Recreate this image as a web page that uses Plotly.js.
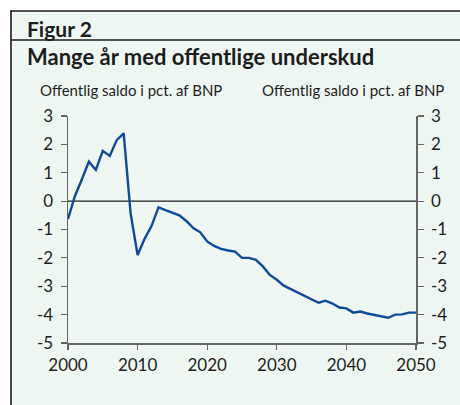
<!DOCTYPE html>
<html>
<head>
<meta charset="utf-8">
<script src="https://cdn.plot.ly/plotly-3.0.1.min.js"></script>
<style>html,body{margin:0;padding:0;background:#fff;}#chart{width:460px;height:405px;}</style>
</head>
<body>
<div id="chart"></div>
<script>
const years = [2000,2001,2002,2003,2004,2005,2006,2007,2008,2009,2010,2011,2012,2013,2014,2015,2016,2017,2018,2019,2020,2021,2022,2023,2024,2025,2026,2027,2028,2029,2030,2031,2032,2033,2034,2035,2036,2037,2038,2039,2040,2041,2042,2043,2044,2045,2046,2047,2048,2049,2050];
const saldo = [-0.63,0.18,0.77,1.39,1.1,1.77,1.59,2.15,2.39,-0.44,-1.9,-1.33,-0.88,-0.22,-0.32,-0.4,-0.5,-0.7,-0.95,-1.1,-1.42,-1.58,-1.68,-1.74,-1.78,-2.0,-2.0,-2.07,-2.3,-2.6,-2.77,-2.98,-3.1,-3.24,-3.34,-3.46,-3.58,-3.51,-3.61,-3.75,-3.78,-3.93,-3.89,-3.96,-4.01,-4.07,-4.11,-4.0,-3.99,-3.93,-3.93];
const yTickVals = [-5,-4,-3,-2,-1,0,1,2,3];
const yTickText = ["-5","-4","-3","-2","-1","0","1","2","3"];
const xTickVals = [2000,2010,2020,2030,2040,2050];
const figLabel = "Figur 2";
const titleText = "Mange år med offentlige underskud";
const axisLabel = "Offentlig saldo i pct. af BNP";

const W = 460, H = 405, L = 68, R = 416, T = 116, B = 343;
const px = x => (x - L) / (R - L);
const py = y => (B - y) / (B - T);
const bg = "#eff7f3";
const ink = "#1e1e1e";
const font = "Lato, 'Open Sans', sans-serif";

const trace = {
  x: years, y: saldo, type: "scatter", mode: "lines",
  line: {color: "#0d4a9e", width: 2.4},
  hoverinfo: "skip", showlegend: false
};
// same series bound to the right-hand axis (invisible) so that axis is drawn
const traceRight = {
  x: years, y: saldo, type: "scatter", mode: "lines", yaxis: "y2",
  line: {color: "rgba(0,0,0,0)", width: 0},
  hoverinfo: "skip", showlegend: false
};

const axisCommon = {
  range: [-5, 3], tickvals: yTickVals, ticktext: yTickText,
  ticks: "outside", ticklen: 6, tickwidth: 1.2, tickcolor: "#666",
  ticklabelstandoff: 4,
  showline: true, linecolor: "#666", linewidth: 1.5,
  showgrid: false, zeroline: false, fixedrange: true,
  tickfont: {family: font, size: 17, color: ink}
};

const layout = {
  width: W, height: H,
  margin: {l: L, r: W - R, t: T, b: H - B, pad: 0},
  paper_bgcolor: bg, plot_bgcolor: bg,
  showlegend: false,
  xaxis: {
    range: [2000, 2050], tickvals: xTickVals,
    ticks: "outside", ticklen: 5, tickwidth: 1.2, tickcolor: "#666",
    ticklabelstandoff: 1,
    showline: true, linecolor: "#666", linewidth: 1.5,
    showgrid: false, zeroline: false, fixedrange: true,
    tickfont: {family: font, size: 17, color: ink}
  },
  yaxis: Object.assign({}, axisCommon, {side: "left"}),
  yaxis2: Object.assign({}, axisCommon, {side: "right", overlaying: "y"}),
  shapes: [
    {type: "line", xref: "paper", yref: "y", x0: 0, x1: 1, y0: 0, y1: 0, line: {color: ink, width: 1.4}, layer: "below"},
    {type: "rect", xref: "paper", yref: "paper", x0: px(-5), x1: px(W + 5), y0: py(11), y1: py(-5), fillcolor: "#ffffff", line: {width: 0}},
    {type: "rect", xref: "paper", yref: "paper", x0: px(-5), x1: px(11), y0: py(H + 5), y1: py(-5), fillcolor: "#ffffff", line: {width: 0}},
    {type: "line", xref: "paper", yref: "paper", x0: px(10.5), x1: px(W + 5), y0: py(11), y1: py(11), line: {color: ink, width: 1.6}},
    {type: "line", xref: "paper", yref: "paper", x0: px(11), x1: px(11), y0: py(10.5), y1: py(H + 5), line: {color: ink, width: 1.6}},
    {type: "line", xref: "paper", yref: "paper", x0: px(11), x1: px(W + 5), y0: py(40), y1: py(40), line: {color: ink, width: 1.6}}
  ],
  annotations: [
    {text: "<b>" + figLabel + "</b>", xref: "paper", yref: "paper", x: px(25), y: py(29), xanchor: "left", yanchor: "middle", showarrow: false, font: {family: font, size: 21, color: ink}},
    {text: "<b>" + titleText + "</b>", xref: "paper", yref: "paper", x: px(25), y: py(57), xanchor: "left", yanchor: "middle", showarrow: false, font: {family: font, size: 22, color: ink}},
    {text: axisLabel, xref: "paper", yref: "paper", x: px(38), y: py(90), xanchor: "left", yanchor: "middle", showarrow: false, font: {family: font, size: 15, color: ink}},
    {text: axisLabel, xref: "paper", yref: "paper", x: px(446), y: py(90), xanchor: "right", yanchor: "middle", showarrow: false, font: {family: font, size: 15, color: ink}}
  ]
};

Plotly.newPlot("chart", [trace, traceRight], layout, {displayModeBar: false, staticPlot: true});
</script>
</body>
</html>
